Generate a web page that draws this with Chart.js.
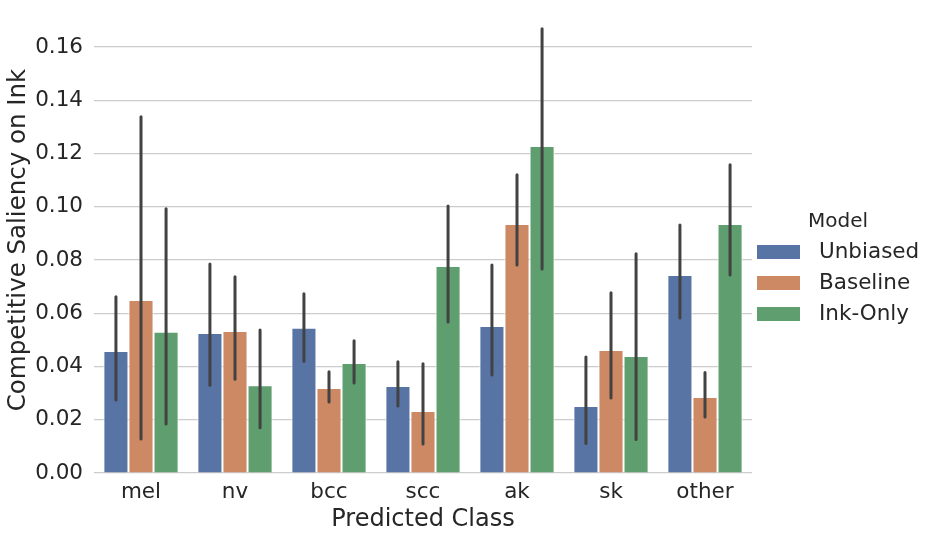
<!DOCTYPE html>
<html>
<head>
<meta charset="utf-8">
<script src="https://cdn.jsdelivr.net/npm/chart.js@4/dist/chart.umd.min.js"></script>
<style>
  body { margin:0; background:#fff; }
</style>
</head>
<body>
<canvas id="myChart" width="940" height="538"></canvas>
<script>
const categories = ["mel","nv","bcc","scc","ak","sk","other"];
const seriesNames = ["Unbiased","Baseline","Ink-Only"];

const unbiased = [0.0458,0.0526,0.0545,0.0327,0.0552,0.0252,0.0744];
const baseline = [0.0650,0.0533,0.0319,0.0233,0.0935,0.0462,0.0285];
const inkOnly  = [0.0530,0.0330,0.0413,0.0777,0.1228,0.0439,0.0935];

// error bar ends (low / high)
const unbiasedLo = [0.0274,0.0330,0.0420,0.0252,0.0368,0.0111,0.0582];
const unbiasedHi = [0.0662,0.0785,0.0673,0.0418,0.0781,0.0436,0.0931];
const baselineLo = [0.0128,0.0352,0.0267,0.0109,0.0781,0.0282,0.0210];
const baselineHi = [0.1338,0.0737,0.0380,0.0410,0.1120,0.0677,0.0377];
const inkOnlyLo  = [0.0184,0.0170,0.0338,0.0567,0.0766,0.0126,0.0744];
const inkOnlyHi  = [0.0992,0.0537,0.0497,0.1003,0.1668,0.0823,0.1158];

const yTicks = [0,0.02,0.04,0.06,0.08,0.10,0.12,0.14,0.16];

const colors = ["#5874a4","#cc8963","#5f9e6e"];
const lows = [unbiasedLo,baselineLo,inkOnlyLo];
const highs = [unbiasedHi,baselineHi,inkOnlyHi];
const font = "'DejaVu Sans', sans-serif";
const textColor = "#262626";

const errorBars = {
    id:'errorBars',
    afterDatasetsDraw(chart){
        const ctx = chart.ctx;
        const y = chart.scales.y;
        ctx.save();
        ctx.strokeStyle = "#424242";
        ctx.lineWidth = 3;
        ctx.lineCap = "round";
        chart.data.datasets.forEach((ds,i)=>{
            const meta = chart.getDatasetMeta(i);
            meta.data.forEach((bar,j)=>{
                ctx.beginPath();
                ctx.moveTo(bar.x, y.getPixelForValue(lows[i][j]));
                ctx.lineTo(bar.x, y.getPixelForValue(highs[i][j]));
                ctx.stroke();
            });
        });
        ctx.restore();
    }
};

const sideLegend = {
    id:'sideLegend',
    afterDraw(chart){
        const ctx = chart.ctx;
        ctx.save();
        ctx.fillStyle = textColor;
        ctx.textBaseline = "middle";
        ctx.font = "20px " + font;
        ctx.fillText("Model", 808, 222);
        ctx.font = "21.5px " + font;
        chart.data.datasets.forEach((ds,i)=>{
            const cy = 252 + i*31;
            ctx.fillStyle = ds.backgroundColor;
            ctx.fillRect(757, cy-7, 43, 14);
            ctx.fillStyle = textColor;
            ctx.fillText(ds.label, 819, cy);
        });
        ctx.restore();
    }
};

new Chart(document.getElementById('myChart').getContext('2d'),{
    type:'bar',
    data:{
        labels:categories,
        datasets:[
            {label:seriesNames[0], data:unbiased, backgroundColor:colors[0]},
            {label:seriesNames[1], data:baseline, backgroundColor:colors[1]},
            {label:seriesNames[2], data:inkOnly,  backgroundColor:colors[2]}
        ].map(d=>Object.assign(d,{borderColor:"#ffffff",borderWidth:1,
            categoryPercentage:0.8,barPercentage:1}))
    },
    options:{
        responsive:false,
        animation:false,
        devicePixelRatio:1,
        layout:{padding:{top:7,right:188,left:0,bottom:0}},
        plugins:{legend:{display:false},tooltip:{enabled:false}},
        scales:{
            x:{
                grid:{display:false,drawTicks:false},
                border:{display:false},
                ticks:{color:textColor,font:{family:font,size:21.5},padding:7},
                title:{display:true,text:"Predicted Class",color:textColor,
                    font:{family:font,size:24},padding:{top:0,bottom:4}},
                afterFit(scale){ scale.height = 65; scale.paddingLeft = 0; scale.paddingRight = 0; }
            },
            y:{
                min:0,max:0.175,
                grid:{color:"#cccccc",lineWidth:1.2,drawTicks:false},
                border:{display:false},
                afterBuildTicks(scale){ scale.ticks = yTicks.map(v=>({value:v})); },
                ticks:{color:textColor,font:{family:font,size:21.5},padding:11,
                    callback:v=>v.toFixed(2)},
                title:{display:true,text:"Competitive Saliency on Ink",color:textColor,
                    font:{family:font,size:24.5},padding:{top:4,bottom:0}},
                afterFit(scale){ scale.width = 94; scale.paddingTop = 0; scale.paddingBottom = 0; }
            }
        }
    },
    plugins:[errorBars,sideLegend]
});
</script>
</body>
</html>
